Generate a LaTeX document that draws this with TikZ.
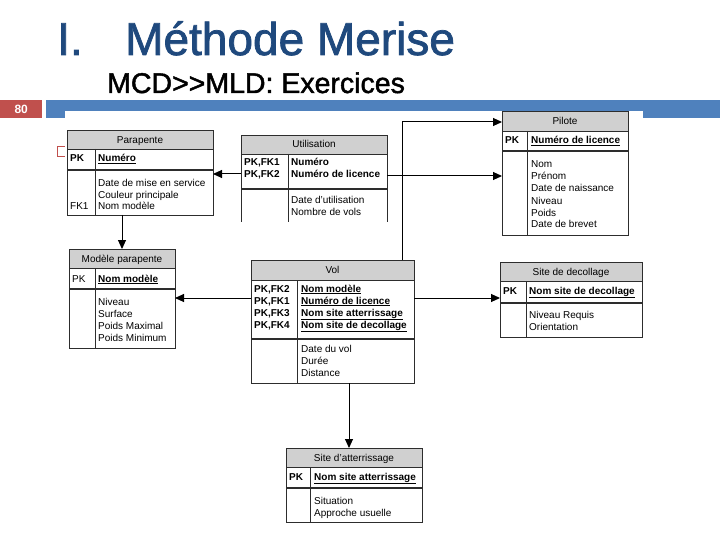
\documentclass[tikz,border=0pt]{standalone}
\usepackage{fontspec}
\setmainfont{Liberation Sans}
\newfontfamily\heavyfont[FakeBold=1.6]{Liberation Sans}
\usetikzlibrary{arrows.meta,fit}
\definecolor{titleblue}{RGB}{31,73,125}
\definecolor{barblue}{RGB}{79,129,189}
\definecolor{numred}{RGB}{192,80,77}
\definecolor{hdrgray}{RGB}{208,208,208}
\definecolor{edge}{RGB}{45,45,45}
\tikzset{
  tline/.style={draw=edge, line width=0.8pt},
  sepline/.style={draw=edge, line width=1.4pt},
  txt/.style={anchor=base west, inner sep=0pt, align=left},
  arr/.style={draw=black, line width=1pt, -{Triangle[length=9pt,width=8pt]}},
}
\newcommand\mytable[9]{%
  \fill[hdrgray] (#2,#3) rectangle (#4,#6);
  \node[fit={(#2,#3) (#4,#5)}, inner sep=0pt, outer sep=0pt, tline] (#1) {};
  \draw[tline] (#2,#6) -- (#4,#6);
  \draw[sepline] (#2,#7) -- (#4,#7);
  \draw[tline] (#8,#6) -- (#8,#5);
  \node[anchor=mid, inner sep=0pt] (#1-t) at ({(#2+#4)/2},{(#3+#6)/2+1}) {#9};
}
\newcommand\ukey[1]{\underline{\textbf{#1}}}
\begin{document}
\begin{tikzpicture}[x=1pt,y=-1pt,font=\fontsize{10}{12}\selectfont]
\useasboundingbox (0,0) rectangle (720,540);
\fill[white] (0,0) rectangle (720,540);

% titles
\node[anchor=base west, inner sep=0pt, text=titleblue, font=\heavyfont\fontsize{46}{50}\selectfont] (tnum) at (57,55) {I.};
\node[anchor=base west, inner sep=0pt, text=titleblue, font=\heavyfont\fontsize{46}{50}\selectfont] (title) at (125,55) {Méthode Merise};
\node[anchor=base west, inner sep=0pt, font=\heavyfont\fontsize{28.5}{32}\selectfont] (sub) at (107,93) {MCD{>}{>}MLD: Exercices};

% page number and bar
\fill[barblue] (46,100) rectangle (720,118);
\node[fill=numred, text=white, font=\bfseries\fontsize{12}{12}\selectfont, minimum width=42pt, minimum height=18pt, inner sep=0pt, anchor=north west] (page) at (0,100) {80};
\draw[numred, line width=1pt] (57,147) rectangle (66,157);
\fill[white] (65,111) rectangle (643,532);

% Parapente
\mytable{para}{67}{130}{213}{215}{149}{170}{95}{Parapente}
\node[txt] (para-k) at (70,162) {\textbf{PK}};
\node[txt] (para-n) at (98,162) {\ukey{Numéro}};
\node[txt, font=\fontsize{10}{11.5}\selectfont] (para-a) at (98,210) {Date de mise en service\\Couleur principale\\Nom modèle};
\node[txt] (para-f) at (70,210) {FK1};

% Utilisation (open at the bottom)
\fill[hdrgray] (241,135) rectangle (387,154);
\node[fit={(241,135) (387,222)}, inner sep=0pt, outer sep=0pt] (util) {};
\draw[tline] (241,222) -- (241,135) -- (387,135) -- (387,222);
\draw[tline] (241,154) -- (387,154);
\draw[sepline] (241,189) -- (387,189);
\draw[tline] (288,154) -- (288,222);
\node[anchor=mid, inner sep=0pt] (util-t) at (314,145) {Utilisation};
\node[txt] (util-k) at (244,178) {\textbf{PK,FK1}\\\textbf{PK,FK2}};
\node[txt] (util-n) at (291,178) {\textbf{Numéro}\\\textbf{Numéro de licence}};
\node[txt] (util-a) at (291,215) {Date d'utilisation\\Nombre de vols};

% Pilote
\mytable{pilote}{502}{111}{628}{235}{131}{151}{527}{Pilote}
\node[txt] (pil-k) at (505,144) {\textbf{PK}};
\node[txt] (pil-n) at (531,144) {\ukey{Numéro de licence}};
\node[txt] (pil-a) at (531,228) {Nom\\Prénom\\Date de naissance\\Niveau\\Poids\\Date de brevet};

% Modele parapente
\mytable{modele}{69}{249}{175}{348}{268}{289}{95}{Modèle parapente}
\node[txt] (mod-k) at (72,282) {PK};
\node[txt] (mod-n) at (98,282) {\ukey{Nom modèle}};
\node[txt] (mod-a) at (98,341) {Niveau\\Surface\\Poids Maximal\\Poids Minimum};

% Vol
\mytable{vol}{251}{260}{414}{383}{280}{339}{297}{Vol}
\node[txt] (vol-k) at (254,328) {\textbf{PK,FK2}\\\textbf{PK,FK1}\\\textbf{PK,FK3}\\\textbf{PK,FK4}};
\node[txt] (vol-n) at (301,328) {\ukey{Nom modèle}\\\ukey{Numéro de licence}\\\ukey{Nom site atterrissage}\\\ukey{Nom site de decollage}};
\node[txt] (vol-a) at (301,376) {Date du vol\\Durée\\Distance};

% Site de decollage
\mytable{deco}{500}{262}{642}{337}{281}{303}{526}{Site de decollage}
\node[txt] (deco-k) at (503,294) {\textbf{PK}};
\node[txt] (deco-n) at (529,294) {\ukey{Nom site de decollage}};
\node[txt] (deco-a) at (529,330) {Niveau Requis\\Orientation};

% Site d'atterrissage
\mytable{atter}{286}{448}{422}{522}{467}{488}{310}{Site d'atterrissage}
\node[txt] (att-k) at (289,480) {\textbf{PK}};
\node[txt] (att-n) at (314,480) {\ukey{Nom site atterrissage}};
\node[txt] (att-a) at (314,516) {Situation\\Approche usuelle};

% connectors
\coordinate (u-l) at (241,174);
\coordinate (u-r) at (387,176);
\coordinate (v-t) at (402,260);
\coordinate (p-in) at (502,122);
\coordinate (v-l) at (251,298);
\coordinate (v-r) at (414,298);
\coordinate (v-b) at (349,383);
\draw[arr] (para.south -| modele.north) -- (modele.north);
\draw[arr] (u-l) -- (u-l -| para.east);
\draw[arr] (u-r) -- (u-r -| pilote.west);
\draw[arr] (v-t) |- (p-in);
\draw[arr] (v-l) -- (v-l -| modele.east);
\draw[arr] (v-r) -- (v-r -| deco.west);
\draw[arr] (v-b) -- (v-b |- atter.north);
\end{tikzpicture}
\end{document}
